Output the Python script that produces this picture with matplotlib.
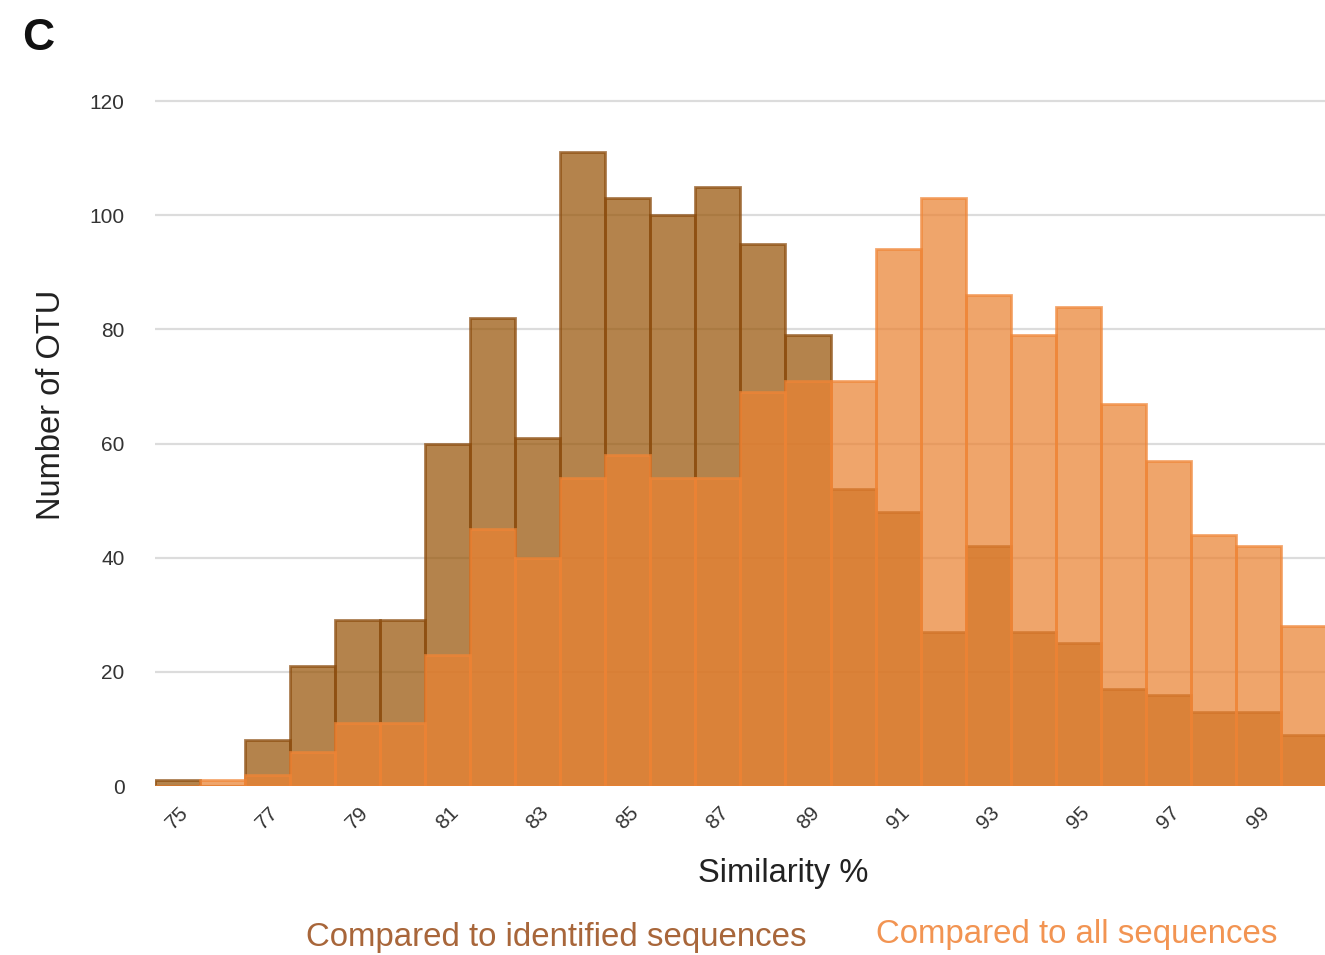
import matplotlib.pyplot as plt
import numpy as np

plt.rcParams['font.family'] = ['Liberation Sans', 'DejaVu Sans']

# similarity bins (%)
bins = np.arange(75, 101)

# Number of OTU per bin
identified = [1, 0, 8, 21, 29, 29, 60, 82, 61, 111, 103, 100, 105, 95, 79,
              52, 48, 27, 42, 27, 25, 17, 16, 13, 13, 9]
all_seqs = [0, 1, 2, 6, 11, 11, 23, 45, 40, 54, 58, 54, 54, 69, 71,
            71, 94, 103, 86, 79, 84, 67, 57, 44, 42, 28]

tick_vals = list(range(75, 100, 2))
ytick_vals = [0, 20, 40, 60, 80, 100, 120]

fig = plt.figure(figsize=(13.25, 9.55), dpi=100)
px = 5.708  # pixels per unit on the y axis
top_px = 786 - 121 * px
ax = fig.add_axes([155 / 1325, (955 - 786) / 955, 1 - 155 / 1325, (786 - top_px) / 955])

ax.bar(bins, identified, width=1.0, color='#975407', alpha=0.72,
       edgecolor='#8a4a0c', linewidth=2.0, zorder=2)
ax.bar(bins, all_seqs, width=1.0, color='#ea8232', alpha=0.72,
       edgecolor='#f08536', linewidth=2.0, zorder=3)

ax.set_xlim(74.5, 100.48)
ax.set_ylim(0, 121)
ax.set_yticks(ytick_vals)
ax.set_xticks(tick_vals)
ax.set_xticklabels([str(v) for v in tick_vals], rotation=45, ha='center',
                   fontsize=15, color='#333333')
ax.tick_params(axis='x', length=0, pad=12)
ax.tick_params(axis='y', length=0, pad=22, labelsize=15, labelcolor='#333333')
ax.yaxis.grid(True, color='#dcdcdc', linewidth=1.6, zorder=0)
ax.set_axisbelow(True)
for s in ax.spines.values():
    s.set_visible(False)

fig.text(52 / 1325, 1 - 405 / 955, 'Number of OTU', rotation=90,
         ha='center', va='center', fontsize=23.5, color='#222222')
fig.text(783 / 1325, 1 - 873 / 955, 'Similarity %', ha='center', va='center',
         fontsize=23.5, color='#222222')
fig.text(556 / 1325, 1 - 937 / 955, 'Compared to identified sequences',
         ha='center', va='center', fontsize=23.8, color='#a8663a')
fig.text(1077 / 1325, 1 - 934 / 955, 'Compared to all sequences',
         ha='center', va='center', fontsize=23.8, color='#f29452')
fig.text(38 / 1325, 1 - 38 / 955, 'C', ha='center', va='center',
         fontsize=32, fontweight='bold', color='#111111')

fig.savefig('out.png', dpi=100)
